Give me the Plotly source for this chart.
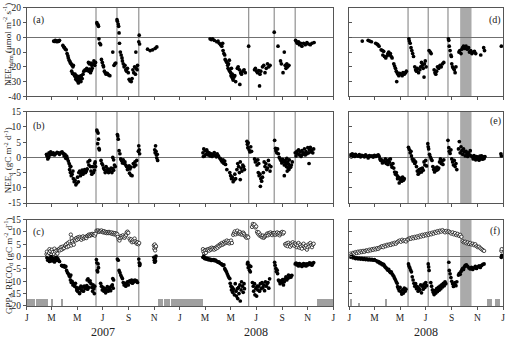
import plotly.graph_objects as go
import pandas as pd

# ---------------- DATA ----------------
# Left column: days since 2007-01-01 ; right column: days since 2008-01-01
nee_mdm_left = [
    (64,-2.5),(66,-2.8),(68,-2),(70,-2.6),(72,-3),(74,-2.3),(76,-2.7),(78,-2),
    (86,-5.5),(88,-6.5),(90,-7),(92,-8),(94,-8.5),(96,-11),(98,-12.5),(99,-14),(101,-15.5),
    (103,-16.5),(104,-17.5),(106,-18),(108,-19),(110,-20),(111,-19),
    (107,-23),(109,-24.5),(112,-25),(114,-26),(116,-27),(117,-28.5),
    (115,-25),(118,-26),(119,-29),(120,-27.5),(122,-30),(123,-31),(124,-28),(125,-26.5),(126,-29),
    (128,-27),(129,-30),(130,-26),(132,-28),(134,-25),
    (136,-23),(139,-22),(141,-22.5),(143,-21),(146,-22),(148,-23),(150,-21.5),(152,-24),(154,-22.5),(156,-21),
    (147,-17),(149,-18),(153,-17.5),(155,-19),(158,-18),(160,-16),(162,-19),(164,-17),
    (167,10),(168,9),(170,8.5),(171,7.5),(172,-1),(174,-4),(176,-5),
    (178,-15),(180,-17),(182,-19),(183,-20),(185,-23),(187,-24),(189,-25),(192,-24.5),(195,-25.5),(198,-26),
    (205,-10),(208,-19),(210,-18),(212,-17.5),
    (215,12),(216,11),(218,9),(219,7.5),(220,3),(221,-4),
    (223,-10),(225,-12),(227,-14),(228,-16),
    (230,-18),(232,-20),(234,-19),(236,-22),(238,-23),(240,-21),(242,-24),
    (244,-28.5),(246,-29.5),(249,-30),(251,-28),
    (253,-22),(255,-24),(257,-20),(259,-25),(261,-21),(263,-22),(264,-19),(260,-10),
    (268,1.5),(267,-3),(269,-4.5),
    (288,-8),(294,-9),(300,-8.5),(306,-7.5),(310,-6.5),
    (437,-1),(440,-1.5),(443,-1),(447,-2),
    (453,-3),(456,-2.5),(459,-4),(462,-5),(465,-6),(467,-4),
    (468,-9),(470,-11),(472,-12),
    (473,-15),(475,-16),(477,-17),(479,-19),(481,-18),(483,-15.5),
    (480,-21),(482,-22),(484,-23),(486,-24),(488,-21),(490,-25),
    (487,-26),(489,-27),(491,-28),(492,-29),(494,-27),(496,-26),(498,-30),(508,-32),
    (502,-21),(504,-20),(507,-22),(510,-24),(512,-25),(515,-23),(518,-22),(521,-24),
    (529,-6),
    (543,-22),(545,-21),(548,-23),(550,-24),(553,-22.5),(556,-25),(558,-23),(555,-33),
    (562,-20),(565,-19),(568,-24),(571,-21),(574,-18),(577,-20),(580,-19),
    (590,3.5),(599,-6),(605,-16),(607,-18),(611,-24),(614,-10),(616,-19),(618,-21),(620,-18),(622,-20),(625,-19),
    (641,-2),(643,-3),(645,-4),(648,-3),(650,-5),(653,-4),(656,-6),
    (660,-4),(664,-5),(668,-3.5),(672,-4.5),(676,-5),(680,-4),(685,-3.5),
]

nee_mdm_right = [
    (31,-2.5),(45,-2),(49,-2.5),(53,-3),(63,-4),(66,-4.5),(68,-5),(71,-6),
    (76,-8.5),(79,-9),(82,-9.5),(80,-12),(84,-13),(87,-14),(90,-12.5),
    (92,-11),(94,-10),(96,-12),(98,-11),(100,-13),(102,-14),
    (106,-18),(108,-19.5),(110,-21),(112,-23),(114,-24),(116,-25),(118,-26),(113,-30),
    (120,-24.5),(123,-25),(126,-26),(128,-24),(131,-25),(134,-24),(136,-23),
    (142,-1),(143,-2.5),(145,-4),(147,-7),(149,-9),(151,-11),(153,-13),
    (156,-20),(158,-22),(160,-23),(162,-21),(165,-24),(168,-22),(170,-20),
    (172,-17),(174,-19),(176,-21),(179,-18),(181,-16),(183,-20),(178,-27),
    (190,-9),(193,-10),(195,-11),
    (202,-22),(204,-24),(206,-25),(208,-23),
    (210,-20),(213,-21),(216,-19),(219,-20),(222,-18),(225,-17),
    (236,-1),(237,-2),(238,-6),(240,-9),(242,-12),(243,-13),
    (244,-18),(246,-20),(248,-21),(250,-22),(252,-24),(254,-20),
    (261,-10),(263,-9),(266,-11),(268,-8),
    (270,-7),(272,-6),(275,-7.5),(278,-6),(281,-8),(284,-7),
    (286,-10),(289,-9),(292,-11),(295,-10),(298,-9.5),(301,-11),
    (313,-12),(320,-7),(322,-9),(362,-6),
]

nee_d_left = [
    (47,1),(48,0.5),(50,-0.5),(52,0),(53,1.5),(55,0.8),(57,1.8),(59,1.2),
    (61,1),(63,1.5),(66,0.8),(69,1.2),(72,1.7),(75,1.5),(78,1),(81,1.6),(84,1.8),(87,1.3),
    (89,0.5),(91,1),(93,-0.3),(95,0.4),(97,-0.5),
    (99,-1.2),(101,-2),(103,-2.8),(105,-3),
    (102,-4),(104,-5),(106,-6),(108,-5.5),(110,-4.5),
    (111,-7),(113,-8),(115,-7.5),(117,-9),(119,-8.5),(121,-6.5),(123,-8),
    (124,-5),(126,-4.5),(128,-6),(130,-5),(132,-4.2),(134,-5.5),(136,-4.8),(138,-4),(140,-5),(142,-4.5),(144,-3.8),
    (146,-1.5),(148,-2.5),(150,-1),(152,-3),
    (153,-4.5),(155,-5.5),(157,-3),(159,-5),(161,-4.2),(162,-2),(163,-1.5),(164,-3),
    (167,9),(168,8.5),(169,4.5),(170,8),(171,6),(172,3),(173,2.5),
    (177,-1),(179,-2),(181,-2.5),
    (183,-3.5),(185,-4),(187,-5),(189,-3),(191,-4.5),(193,-3.8),(195,-5),(197,-4),(199,-4.6),
    (201,-3.5),(203,-5),(205,-3.7),(207,-4.2),(209,-2.5),(211,-3),(205,0),(207,-0.8),
    (216,7.5),(217,7),(218,6),(220,2.2),(222,1.2),
    (224,-0.5),(226,-1),(228,-1.8),(230,-0.8),(232,-2),(234,-1.5),
    (236,-2.5),(238,-3),(240,-4),(242,-3.5),(244,-2.8),(246,-3.8),(248,-3.2),
    (245,-5.2),(248,-5.8),(251,-6),
    (254,-2),(256,-3),(258,-1.5),(260,-2.5),(262,-1),
    (266,2),(267,3.8),(268,2.5),(269,1.2),
    (305,2.5),(306,1.5),(307,3.8),(308,2),(309,0.8),(310,-0.2),(311,1),(312,-1),
    (420,1.5),(421,0.3),(422,2.8),(424,0.5),(425,2.2),(427,1),(429,2.5),(431,1.8),
    (433,0.8),(435,1.5),(437,0.5),(440,1.2),(442,0.3),(445,1),(447,1.6),(449,0.7),(452,0.2),(454,1.2),(457,0.5),(460,-0.2),
    (462,-0.5),(464,-1),(466,-1.5),(468,-0.8),(470,-2),(472,-1.2),(474,-2.3),(477,-4),
    (484,-5),(486,-6),(488,-7),(490,-6.5),(492,-8),(494,-7.5),(496,-5.5),(498,-7),
    (501,-4),(503,-2),(505,-3),(507,-5),(509,-1.5),(511,-3.5),(513,-4.5),(515,-2.5),(517,-3),(519,-4),(509,-7.3),
    (525,5.3),(526,4.3),(527,3.2),(528,4.8),(530,2.5),(532,1.8),(534,3.5),(536,2),
    (543,-0.5),(545,-1.5),(547,-1),(549,-2.5),(551,-0.8),(553,-2),
    (552,-5),(554,-6),(556,-5.5),(558,-7),(560,-7.8),(562,-6.5),(564,-5),(557,-9.5),
    (566,-1.5),(568,-3),(570,-2),(572,-4),(574,-3.5),(576,-1),(578,-2.5),(580,-4.5),(582,-3),
    (591,5.6),(593,3),(594,2.2),(596,1.5),(598,2.8),(600,1.2),
    (602,0),(604,-0.5),(606,-1),(608,-1.8),(610,-0.6),(612,-1.5),(614,-2.5),(616,-1),(618,-2),(620,-0.3),
    (622,-1.5),(624,-2.2),(626,-0.8),(614,-6),
    (619,-3),(621,-4.5),(623,-3.5),(625,-4),(627,-2.8),(629,-3.2),(631,-2.5),(633,-1.5),
    (640,1.5),(642,0.5),(644,2),(646,1.2),(648,2.5),(650,0.8),(652,1.8),(654,0.3),(656,2.2),(658,1),
    (660,1.5),(662,2.8),(664,0.8),(666,1.9),(668,1.2),(670,3.2),(672,1.5),(674,2.5),(676,3.3),(678,1.8),
    (680,2.5),(682,1.5),(684,2.8),(673,-2),
]

nee_d_right = [
    (3,0.8),(5,0.2),(7,1.2),(9,0.5),(11,0.9),(13,0.3),(15,1),(18,0.6),(21,0.4),(24,0.9),(27,0.2),(30,0.7),
    (33,0.5),(36,0.2),(39,0.8),(42,0.4),(45,-0.2),(48,0.6),(51,0.3),(54,0.5),(57,0.1),(60,0.7),(63,0.3),
    (66,0.6),(69,0.8),(71,0.4),
    (73,-0.5),(75,-1),(77,-0.8),(79,-1.8),(81,-1.2),
    (84,-1.5),(86,-0.5),(88,-2),(90,-1.2),(92,-2.3),(94,-0.8),(96,-1.6),(98,-0.5),
    (100,-2.5),(102,-3.2),(104,-2),(106,-3.5),
    (108,-4.8),(110,-5.5),(112,-5),(114,-6),
    (115,-7),(117,-6.5),(119,-8.4),(121,-7.2),(123,-6.8),(125,-7.8),(127,-6.5),(129,-7.5),(131,-7),
    (141,3.3),(143,2.6),(145,1.5),(147,2),
    (148,0.5),(150,-0.5),(152,-1.2),(154,-0.8),(156,-2),(158,-1.5),
    (160,-3),(162,-4.5),(164,-5.5),(166,-4),(168,-5),(170,-3.8),(172,-4.8),(174,-3.5),(176,-4.2),
    (178,-1.5),(180,-2.5),(182,-1),(184,-2.8),
    (187,4.5),(188,3.5),(189,2.8),(191,1),(193,0.2),(195,-0.5),(197,-1),
    (199,-3),(201,-4),(203,-4.8),(205,-3.5),(207,-4.3),(209,-3.2),(211,-4),(213,-3.5),
    (215,-1.5),(217,-0.5),(219,-2),(221,-1.2),(223,-2.3),(225,-0.8),
    (235,5.6),(237,3.2),(238,2),(240,1.3),(242,2.5),
    (244,-0.5),(246,-1.5),(248,-2.5),(250,-1),(252,-3),(254,-2),(256,-4),
    (260,2.8),(262,5.2),(264,1.5),(266,3.5),(268,2.2),(270,1),(272,2.8),(274,1.8),(276,0.5),(278,2),
    (280,1.2),(282,0.3),(284,1.5),(286,0.8),(288,2.2),(290,0.5),
    (293,0.2),(295,-0.5),(297,0.6),(299,-0.3),(301,-0.8),(303,0.3),(305,-0.5),(307,0.1),(309,-0.9),
    (311,0.4),(313,-0.3),(315,0.5),(317,-0.6),(319,0.2),(321,-0.4),(323,0.3),
    (361,1.2),(362,0.5),
]

gpp_left = [
    (47,1),(48,2),(50,0.5),(51,-0.5),(53,1.5),(54,3),(56,2.2),(57,-1),(59,0.8),(60,2.8),(62,1.8),(63,-0.5),
    (65,1),(66,3.2),(68,2),(70,0.5),(71,2.5),(73,1.2),(75,2.8),
    (77,3),(79,2.5),(81,3.8),(83,2.8),(85,4),(87,3.2),(89,3.5),(91,4.3),
    (92,4.5),(94,5),(96,3.8),(98,5.5),(100,4.2),(102,6),(104,5),(106,4.5),(108,6.2),(110,5.3),(112,4.8),
    (105,8.9),(107,7.5),
    (114,7),(116,6.5),(118,7.5),(120,6.8),(122,7.8),(124,7.2),(126,8),(128,7.5),(130,6.8),(132,7.6),
    (134,8.2),(136,7.3),(138,7.8),(140,8),(142,7.5),(144,8.3),
    (146,8.6),(148,8.9),(150,8.4),(152,9),(154,8.7),(156,9.2),(158,8.8),(160,9),(162,8.5),(164,9.3),
    (166,10.5),(168,10.2),(170,10.6),(172,10),(174,10.4),(176,10.2),(178,10.6),(180,10),(182,9.8),(184,10.3),
    (186,9.7),(188,10),(190,9.5),(192,9.9),(194,9.5),(196,10),(198,9.6),(200,9.4),
    (202,9.8),(204,9.2),(206,9.6),(208,9),(210,9.5),(212,8.9),(214,9.3),(216,9),
    (217,8),(219,7),(221,6.5),(223,7.5),
    (225,8.3),(227,7.8),(229,8.6),(231,8),(233,7.6),(235,8.2),(237,8.8),(238,9.7),(240,10.1),(242,9.6),
    (245,7.2),(247,6.5),(249,7),(251,5.8),(253,6.6),(255,6),(257,7.3),(259,6.2),(261,5.7),
    (262,5.2),(264,5.8),(266,5),(268,5.5),
    (303,4.5),(304,3.2),(305,4.9),(306,2.5),(307,3.8),(308,4.2),
    (420,3),(421,2),(423,1.2),(425,2.5),(427,1.5),(429,2.8),
    (431,2.6),(433,3),(435,2.4),(437,3.3),(439,2.8),(441,3.6),(443,3),(445,3.4),(447,2.8),(449,3.5),(451,3.2),
    (453,4),(455,3.6),(457,4.5),(459,4.2),(461,5),(463,4.6),(465,5.5),(467,4.8),(469,5.2),(471,6),
    (473,5.4),(475,5.8),(477,6.5),(479,5.6),(481,6.2),(483,5.3),(485,5.8),(487,6.5),(489,5.5),
    (492,8.8),(494,9.5),(496,10.2),(498,9),(500,9.8),(502,10.5),(504,9.3),(506,9.6),(508,10),(510,9),
    (512,9.4),(514,8.9),(516,9.7),(518,9.2),
    (520,8.5),(522,8),(524,7.6),(526,8.2),(528,7.8),
    (537,12),(539,13.2),(541,12.6),(543,13),(545,11.8),(547,12.2),
    (549,10),(551,9.3),(553,9.8),(555,8.5),(557,8.9),(559,8.2),(561,7.8),(563,8.5),(565,7.6),(567,8),(569,8.4),
    (571,8.8),(573,9.3),(575,8.6),(577,9.5),(579,9),(581,9.8),(583,9.2),(585,8.7),(587,9.5),(589,9.1),
    (591,9.6),(593,8.8),(595,9.3),(597,9.8),(599,9),(601,9.5),(603,8.6),(605,9.2),(607,9.7),(609,10),(611,9.3),(613,9.8),
    (616,5),(618,4.5),(620,5.4),(622,4.2),(624,5.6),(626,4.8),(628,4),(630,5.2),(632,4.6),
    (634,5.8),(636,5),(638,4.4),(640,5.3),(642,4.8),(644,3.8),(646,4.5),(648,5.5),(650,3.6),(652,4.8),
    (654,4),(656,3.2),(658,4.6),(660,5.2),(662,4),(664,3.5),(666,4.4),(668,2.8),(670,3.8),(672,5),
    (674,4.2),(676,5.5),(678,4.6),(680,3.8),(682,4.8),(684,5.2),
]

reco_left = [
    (48,-0.5),(50,-1.5),(52,-0.8),(54,-2),(56,-1.2),(58,0),(60,-1.8),(62,-0.6),(64,-1.3),(66,-2.2),
    (68,-1),(70,-0.3),(72,-1.6),(74,-0.8),(76,-1.5),(78,-2),
    (83,-3.6),(85,-3.8),(87,-4),(89,-3.7),(91,-4.3),(93,-4),
    (95,-5.6),(97,-6.5),(99,-7),(101,-7.8),(103,-8.2),(105,-7.5),
    (104,-9.5),(106,-10.5),(108,-10),(110,-11.5),(112,-11),(114,-12),(116,-10.8),
    (118,-12.5),(119,-13.5),(121,-14),(123,-12.8),(125,-14.7),(126,-15),(127,-13),(129,-12),(131,-13.8),
    (133,-12.4),(135,-14),
    (137,-12),(139,-13),(141,-12.3),(143,-11.8),(145,-13.2),(147,-12.5),
    (144,-9.5),(146,-9),(149,-10.2),(151,-9.8),
    (153,-11),(155,-12.5),(157,-14),(158,-11.5),(160,-13),(161,-15),(162,-12),
    (166,-1.2),(167,-2.5),(168,-5.6),(169,-6.2),(170,-3),(171,-4.5),
    (176,-10.8),(178,-12),(180,-13.5),(182,-12.5),(184,-14),(186,-13),(188,-14.7),(190,-13.5),(192,-12.2),
    (194,-14),(196,-13),(198,-12.5),(200,-13.8),(202,-12),(204,-11.5),(206,-12.8),(205,-8.9),(207,-9.5),
    (216,-1),(218,-1.5),
    (220,-5.6),(222,-6.5),(224,-7.5),(226,-8.2),(228,-8.9),
    (230,-10.5),(232,-11.5),(234,-10.8),(236,-12),(238,-11),(240,-10.2),(242,-11.5),(244,-10),(246,-9.8),
    (248,-10.5),(250,-9.5),(252,-10.8),(254,-9.7),(256,-10.2),(258,-9.5),(260,-10),(262,-9.8),(264,-10.5),
    (267,-1),(268,-2.5),(269,-3.6),(270,-3),
    (303,-0.3),(304,-1.5),(305,-2.3),(306,-0.8),(307,-1.8),(308,0.2),
    (420,-0.3),(422,0.2),(424,-0.8),(426,-0.5),(428,-1),(430,-0.7),(432,-1.2),(434,-0.9),(436,-1.4),
    (438,-1.1),(440,-1.6),(442,-1.3),(444,-1.5),(446,-1.2),(448,-1.7),(450,-1.4),(452,-1.8),
    (454,-2),(456,-2.3),(458,-2.1),(460,-2.6),(462,-2.8),(464,-3),(466,-3.3),(468,-3.6),(470,-3.4),
    (472,-4.9),(474,-5.5),(476,-6.2),(478,-7),(480,-7.8),(482,-8.5),(484,-8.9),
    (485,-10.8),(487,-12),(488,-13.5),(490,-12.5),(491,-14.5),(493,-13.2),(495,-15.5),
    (497,-11),(499,-14),(500,-16),(502,-13),(503,-17),(505,-12.5),(506,-15),(508,-11.5),(509,-18),
    (511,-13.5),(512,-10.2),(514,-12),(516,-14.5),(518,-11),(519,-13),
    (526,-3),(527,-2.3),(528,-4.5),(530,-3.5),(531,-5.5),(533,-6.2),(534,-4),
    (538,-10.5),(540,-12),(541,-14),(543,-11),(544,-15.5),(546,-13),(548,-16),(549,-12),
    (551,-13.5),(553,-12),(555,-14),(557,-11),(559,-13),(561,-10.5),(563,-12.5),(565,-11.5),(567,-13.8),
    (569,-10.2),(571,-12),(573,-11),(575,-10.5),(577,-12.8),(579,-9),
    (591,-2.3),(592,-3.5),(594,-4.8),(595,-6),(597,-5.5),(598,-6.9),
    (600,-9.5),(602,-10),(604,-11),(606,-9.8),(608,-10.5),(610,-9.3),(612,-11.5),(614,-10.2),(616,-9),
    (618,-8.2),(620,-9.5),(622,-8.8),(624,-7.5),(626,-8.5),(628,-7.8),(630,-8.3),(632,-7.6),
    (640,-3),(642,-2.6),(644,-3.4),(646,-3),(648,-3.8),(650,-2.8),(652,-3.5),(654,-3.2),(656,-4),(658,-3.3),
    (660,-2.8),(662,-3.6),(664,-3.1),(666,-3.8),(668,-2.9),(670,-3.4),(672,-3),(674,-2.5),(676,-3.2),
    (678,-2.7),(680,-3.5),(682,-2.9),(684,-2.4),
]

gpp_right = [
    (3,1.2),(6,0.8),(9,1.5),(12,1.2),(15,1.8),(18,1.4),(21,2),(24,1.6),(27,2.2),(30,1.8),(33,2.3),(36,1.9),(39,2.4),
    (42,2.5),(45,2.2),(48,2.8),(51,2.5),(54,3),(57,2.7),(60,3.2),(63,2.9),(66,3.4),(69,3.1),
    (72,3.6),(75,3.9),(78,4.2),(81,3.8),(84,4.5),(87,4.2),(90,4.8),(93,4.5),(96,5),(99,4.7),(102,5.3),
    (105,5),(108,5.6),(111,5.2),
    (114,5.8),(117,6.2),(120,6.5),(123,6),(126,6.8),(129,6.3),(132,6.6),(135,6.1),(138,6.9),
    (141,7),(144,7.5),(147,7.2),(150,7.8),(153,7.4),(156,8),(159,7.6),(162,8.2),(165,7.8),(168,8.5),
    (171,8.1),(174,8.8),(177,8.3),(180,9),(183,8.6),(186,9.2),(189,8.8),
    (192,9.4),(195,9),(198,9.7),(201,9.3),(204,10),(207,9.6),(210,10.3),(213,9.8),(216,10.5),(219,10.1),
    (222,10.7),(225,10.2),(228,9.8),(231,10.4),(234,9.9),(237,10.2),
    (240,9.8),(243,9.3),(246,9.8),(249,9),(252,9.5),(255,8.7),(258,9.2),(261,8.4),(264,8.8),(267,8),
    (270,6.2),(273,5.8),(276,6),(279,5.4),(282,5.7),(285,5.1),(288,5.5),(291,4.9),(294,5.2),(297,4.6),(300,5),
    (303,4.2),(306,3.8),(309,4),(312,3.4),(315,3),(318,2.6),(321,2.3),
    (362,2.3),(363,3),
]

reco_right = [
    (3,-0.2),(6,0.1),(9,-0.5),(12,-0.3),(15,-0.8),(18,-0.5),(21,-0.9),(24,-0.6),(27,-1),(30,-0.7),(33,-1.1),
    (36,-0.8),(39,-1.2),(42,-0.9),(45,-1.3),(48,-1),(51,-1.4),(54,-1.1),(57,-1.5),(60,-1.2),(63,-1.6),
    (66,-1.8),(68,-2.2),(70,-2),(72,-2.6),(74,-2.4),(76,-3),(78,-2.8),(80,-3.4),(82,-3.2),(84,-3.8),(86,-4.3),
    (88,-4.6),(90,-5),(92,-5.5),(94,-5.2),(96,-6),(98,-6.5),(100,-6.2),(102,-7),(104,-7.5),
    (106,-8),(108,-8.8),(110,-9.5),(112,-10.2),(114,-10.8),
    (115,-12.2),(117,-13),(119,-13.8),(121,-12.5),(123,-14.2),(125,-15.2),(127,-13.5),(129,-14.8),(131,-12.8),
    (133,-14),(135,-13.2),
    (141,-3),(142,-3.8),(144,-4.5),(146,-5.4),(148,-6.2),
    (150,-8.2),(152,-9.5),(154,-10.8),(156,-12),(158,-11),(160,-13),(162,-12.2),(164,-14),(166,-12.8),
    (168,-13.5),(170,-11.5),(172,-14.7),(174,-12),(176,-13.2),(178,-11.2),(180,-12.5),(182,-10.5),(184,-11.8),
    (188,-3),(189,-4.2),(190,-5.6),
    (194,-10.5),(196,-12),(198,-13.5),(200,-14.5),(202,-15.4),(204,-13.8),(206,-14.8),(208,-13),(210,-14.2),
    (212,-12.5),(214,-13.6),(216,-12),(218,-13),(220,-11.5),(222,-12.3),(224,-10.8),(226,-11.8),(228,-10.2),(230,-11),
    (237,-2.3),(238,-5.6),(240,-7),(242,-8.5),(244,-10),(246,-11),(248,-12.1),(250,-11.5),(252,-10.5),
    (254,-11.8),(256,-10.2),
    (260,-7.5),(262,-6.8),(264,-7.2),(266,-6),(268,-5.4),(270,-4.8),(272,-5.2),(274,-4.2),(276,-3.6),
    (279,-3.4),(282,-4),(285,-4.6),(288,-5),(291,-4.4),(294,-5.2),(297,-4.6),(300,-4),(303,-4.8),(306,-4.2),
    (309,-3.8),(312,-4.4),(315,-3.6),(318,-3.2),(321,-3),
    (362,-0.3),(363,0.5),
]

# bottom gray bars in (c)/(f): (start day, end day, height above -20)
bars_left = [(0,19,3),(21,49,3),(58,60.5,3),(80,85,3),(312,325,3),(327,341,3),(343,420,3),(692,731,3)]
bars_right = [(2,8,3),(22.5,25,1.2),(86,88.5,3),(328,340,3),(347,359,3)]

# vertical reference lines and shaded period
vlines_left = ["2007-06-15", "2007-08-04", "2007-09-25", "2008-06-13", "2008-08-13", "2008-10-02"]
vlines_right = ["2008-05-20", "2008-07-07", "2008-08-23"]
band_right = ["2008-09-21", "2008-10-18"]

month_labels = ["J", "M", "M", "J", "S", "N", "J", "M", "M", "J", "S", "N", "J"]
ticks_a = [20, 10, 0, -10, -20, -30, -40]
ticks_b = [15, 10, 5, 0, -5, -10, -15]
ticks_c = [15, 10, 5, 0, -5, -10, -15, -20]

# ---------------- FIGURE ----------------
W, H = 507, 342
FONT = "Liberation Serif"
BASE_L = pd.Timestamp("2007-01-01")
BASE_R = pd.Timestamp("2008-01-01")


def split(pairs, base):
    xs = [base + pd.Timedelta(days=d) for d, _ in pairs]
    ys = [v for _, v in pairs]
    return xs, ys


fig = go.Figure()


def filled(pairs, base, xa, ya):
    x, y = split(pairs, base)
    fig.add_trace(go.Scatter(x=x, y=y, mode="markers", xaxis=xa, yaxis=ya,
                             marker=dict(size=3.7, color="black"), showlegend=False))


def opened(pairs, base, xa, ya):
    x, y = split(pairs, base)
    fig.add_trace(go.Scatter(x=x, y=y, mode="markers", xaxis=xa, yaxis=ya,
                             marker=dict(size=3.4, color="white", line=dict(color="black", width=0.7)),
                             showlegend=False))


def bars(lst, base, xa, ya):
    xs = [base + pd.Timedelta(days=(s + e) / 2) for s, e, _ in lst]
    ws = [(e - s) * 86400000 for s, e, _ in lst]
    hs = [h for _, _, h in lst]
    fig.add_trace(go.Bar(x=xs, y=hs, base=-20, width=ws, xaxis=xa, yaxis=ya,
                         marker=dict(color="#a0a0a0", line=dict(width=0)), showlegend=False))


bars(bars_left, BASE_L, "x3", "y3")
bars(bars_right, BASE_R, "x6", "y6")

filled(nee_mdm_left, BASE_L, "x", "y")
filled(nee_d_left, BASE_L, "x2", "y2")
opened(gpp_left, BASE_L, "x3", "y3")
filled(reco_left, BASE_L, "x3", "y3")
filled(nee_mdm_right, BASE_R, "x4", "y4")
filled(nee_d_right, BASE_R, "x5", "y5")
opened(gpp_right, BASE_R, "x6", "y6")
filled(reco_right, BASE_R, "x6", "y6")

px_x = lambda p: p / W
px_y = lambda p: 1 - p / H

left_dom = [px_x(25), px_x(334)]
right_dom = [px_x(350), px_x(505)]
rows = [[px_y(94), px_y(3)], [px_y(204), px_y(110)], [px_y(310), px_y(221)]]
yranges = [[-40, 20], [-15, 15], [-20, 15]]
yticks = [ticks_a, ticks_b, ticks_c]

left_tickvals = pd.date_range("2007-01-01", "2009-01-01", freq="2MS")
right_tickvals = pd.date_range("2008-01-01", "2009-01-01", freq="2MS")

framecol = "#555555"
tickfont = dict(family=FONT, size=9.5, color="#222")

layout = dict(
    width=W, height=H, margin=dict(l=0, r=0, t=0, b=0),
    paper_bgcolor="white", plot_bgcolor="white",
    font=dict(family=FONT, color="#222"), bargap=0, barmode="overlay",
)

for i in range(6):
    col = 0 if i < 3 else 1
    row = i % 3
    n = "" if i == 0 else str(i + 1)
    xa = dict(
        domain=left_dom if col == 0 else right_dom,
        anchor="y" + n, type="date",
        range=["2007-01-01", "2009-01-01"] if col == 0 else ["2008-01-01", "2009-01-01"],
        tickvals=list(left_tickvals if col == 0 else right_tickvals),
        showticklabels=(row == 2), ticks="outside", ticklen=3, tickcolor=framecol,
        showgrid=False, zeroline=False, showline=True, linecolor=framecol, linewidth=1, mirror=True,
        tickfont=tickfont,
    )
    if row == 2:
        xa["ticktext"] = month_labels if col == 0 else month_labels[6:]
    ya = dict(
        domain=rows[row], anchor="x" + n, range=yranges[row],
        tickvals=yticks[row], ticktext=[str(v) for v in yticks[row]],
        showticklabels=(col == 0), ticks="outside" if col == 0 else "inside", ticklen=3,
        tickcolor=framecol, showgrid=False,
        zeroline=True, zerolinecolor="#707070", zerolinewidth=1,
        showline=True, linecolor=framecol, linewidth=1, mirror=True, tickfont=tickfont,
    )
    layout["xaxis" + n] = xa
    layout["yaxis" + n] = ya

shapes = []
for i, n in enumerate(["", "2", "3"]):
    for d in vlines_left:
        shapes.append(dict(type="line", xref="x" + n, yref="y" + n + " domain", x0=d, x1=d, y0=0, y1=1,
                           line=dict(color="#999999", width=1.3), layer="below"))
for n in ["4", "5", "6"]:
    shapes.append(dict(type="rect", xref="x" + n, yref="y" + n + " domain", x0=band_right[0], x1=band_right[1],
                       y0=0, y1=1, fillcolor="#aaaaaa", line=dict(width=0), layer="below"))
    for d in vlines_right:
        shapes.append(dict(type="line", xref="x" + n, yref="y" + n + " domain", x0=d, x1=d, y0=0, y1=1,
                           line=dict(color="#999999", width=1.3), layer="below"))
layout["shapes"] = shapes

ann = []
labfont = dict(family=FONT, size=10, color="#222")
for txt, x, y in [("(a)", 37, 15), ("(b)", 37, 125), ("(c)", 37, 234),
                  ("(d)", 497, 15), ("(e)", 497, 119), ("(f)", 497, 233)]:
    ann.append(dict(text=txt, x=px_x(x), y=px_y(y), xref="paper", yref="paper", showarrow=False,
                    xanchor="center", yanchor="middle", font=labfont))

titlefont = dict(family=FONT, size=9, color="#222")
for txt, y in [("NEE<sub>mdm</sub> (μmol m<sup>-2</sup> s<sup>-1</sup>)", 40),
               ("NEE<sub>d</sub> (gC m<sup>-2</sup> d<sup>-1</sup>)", 160),
               ("GPP<sub>d</sub>, RECO<sub>d</sub> (gC m<sup>-2</sup> d<sup>-1</sup>)", 268)]:
    ann.append(dict(text=txt, x=px_x(6), y=px_y(y), xref="paper", yref="paper", showarrow=False,
                    textangle=-90, xanchor="center", yanchor="middle", font=titlefont))

yearfont = dict(family=FONT, size=12, color="#222")
for txt, xa, d in [("2007", "x3", "2007-07-01"), ("2008", "x3", "2008-07-01"), ("2008", "x6", "2008-07-01")]:
    ann.append(dict(text=txt, x=d, y=px_y(337), xref=xa, yref="paper", showarrow=False,
                    xanchor="center", yanchor="middle", font=yearfont))
layout["annotations"] = ann

fig.update_layout(**layout)
fig.write_html("out.html")
